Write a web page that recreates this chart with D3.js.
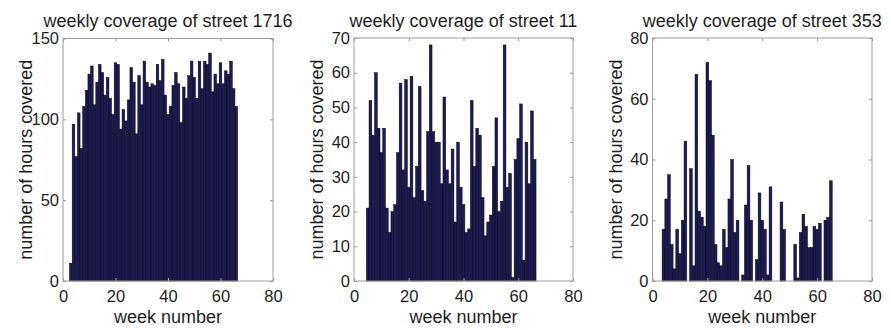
<!DOCTYPE html>
<html>
<head>
<meta charset="utf-8">
<script src="https://cdn.jsdelivr.net/npm/d3@7"></script>
<style>
  html, body { margin: 0; padding: 0; background: #fff; }
  svg { display: block; font-family: "Liberation Sans", Arial, Helvetica, sans-serif; }
</style>
</head>
<body>
<svg id="chart" width="891" height="330"></svg>
<script>
// Weekly coverage (hours) per street, one bar per week number
const weeks1716 = [3, 4, 5, 6, 7, 8, 9, 10, 11, 12, 13, 14, 15, 16, 17, 18, 19, 20, 21, 22,
  23, 24, 25, 26, 27, 28, 29, 30, 31, 32, 33, 34, 35, 36, 37, 38, 39, 40, 41, 42,
  43, 44, 45, 46, 47, 48, 49, 50, 51, 52, 53, 54, 55, 56, 57, 58, 59, 60, 61, 62,
  63, 64, 65, 66];
const hours1716 = [11, 97, 77, 104, 82, 108, 118, 128, 133, 109, 123, 134, 129, 115, 126, 113, 103, 135, 134, 94,
  106, 99, 112, 132, 123, 91, 127, 109, 136, 123, 120, 122, 121, 134, 124, 137, 115, 103, 108, 121,
  129, 122, 98, 120, 113, 127, 136, 126, 113, 136, 119, 136, 134, 141, 117, 128, 122, 135, 122, 130,
  128, 136, 119, 108];

const weeks11 = [5, 6, 7, 8, 9, 10, 11, 12, 13, 14, 15, 16, 17, 18, 19, 20, 21, 22, 23, 24,
  25, 26, 27, 28, 29, 30, 31, 32, 33, 34, 35, 36, 37, 38, 39, 40, 41, 42, 43, 44,
  45, 46, 47, 48, 49, 50, 51, 52, 53, 54, 55, 56, 57, 58, 59, 60, 61, 62, 63, 64,
  65, 66];
const hours11 = [21, 52, 42, 60, 44, 37, 44, 21, 14, 20, 22, 37, 57, 32, 58, 27, 59, 24, 33, 56,
  26, 23, 43, 68, 43, 40, 40, 28, 53, 32, 28, 38, 17, 40, 27, 22, 14, 15, 52, 33,
  44, 42, 24, 13, 17, 19, 33, 47, 20, 23, 68, 27, 31, 1, 35, 41, 51, 6, 40, 28,
  49, 35];

const weeks353 = [4, 5, 6, 7, 8, 9, 10, 11, 12, 13, 14, 15, 16, 17, 18, 19, 20, 21, 22, 23,
  24, 25, 26, 27, 28, 29, 30, 31, 32, 33, 34, 35, 36, 37, 38, 39, 40, 41, 42, 43,
  44, 45, 46, 47, 48, 49, 50, 51, 52, 53, 54, 55, 56, 57, 58, 59, 60, 61, 62, 63,
  64, 65];
const hours353 = [17, 27, 35, 12, 4, 17, 9, 20, 46, 0, 37, 5, 68, 23, 21, 18, 72, 66, 48, 12,
  6, 5, 17, 11, 27, 40, 16, 20, 0, 2, 25, 38, 20, 0, 7, 29, 20, 17, 2, 31,
  0, 0, 0, 26, 17, 0, 0, 0, 12, 1, 16, 22, 18, 11, 11, 18, 17, 19, 0, 20,
  21, 33];

const xTicks = [0, 20, 40, 60, 80];
const yTicks1716 = [0, 50, 100, 150];
const yTicks11 = [0, 10, 20, 30, 40, 50, 60, 70];
const yTicks353 = [0, 20, 40, 60, 80];

const titles = ["weekly coverage of street 1716", "weekly coverage of street 11", "weekly coverage of street 353"];
const xLabel = "week number";
const yLabel = "number of hours covered";

const panels = [
  { title: titles[0], weeks: weeks1716, hours: hours1716, yMax: 150, yTicks: yTicks1716,
    box: { left: 63, right: 273, top: 38.5, bottom: 281 } },
  { title: titles[1], weeks: weeks11, hours: hours11, yMax: 70, yTicks: yTicks11,
    box: { left: 354, right: 573, top: 38, bottom: 281 } },
  { title: titles[2], weeks: weeks353, hours: hours353, yMax: 80, yTicks: yTicks353,
    box: { left: 652.5, right: 872, top: 38, bottom: 281 } }
];

const svg = d3.select("#chart");
const axisGray = "#9c9c9c";
const textColor = "#1e1e1e";
const barFill = "#1c1c52";
const barEdge = "#05051a";

panels.forEach(p => {
  const b = p.box;
  const x = d3.scaleLinear().domain([0, 80]).range([b.left, b.right]);
  const y = d3.scaleLinear().domain([0, p.yMax]).range([b.bottom, b.top]);
  const g = svg.append("g");

  // bars (weeks with zero hours draw nothing)
  const data = p.weeks.map((w, i) => ({ week: w, hours: p.hours[i] })).filter(d => d.hours > 0);
  g.append("g").selectAll("rect").data(data).join("rect")
    .attr("x", d => x(d.week - 0.5))
    .attr("width", d => x(d.week + 0.5) - x(d.week - 0.5))
    .attr("y", d => y(d.hours))
    .attr("height", d => y(0) - y(d.hours))
    .attr("fill", barFill)
    .attr("stroke", barEdge)
    .attr("stroke-width", 0.5);

  // inward ticks on all four sides, labels on bottom and left
  const styleAxis = (sel, labelled) => {
    sel.select(".domain").remove();
    sel.selectAll(".tick line").attr("stroke", axisGray).attr("stroke-width", 1);
    sel.selectAll(".tick text")
      .attr("fill", textColor)
      .attr("font-size", 16.5)
      .attr("font-family", "Liberation Sans, Arial, sans-serif");
    if (!labelled) sel.selectAll(".tick text").remove();
  };

  g.append("g").attr("transform", `translate(0,${b.bottom})`)
    .call(d3.axisBottom(x).tickValues(xTicks).tickSize(-3).tickPadding(9))
    .call(s => styleAxis(s, true));
  g.append("g").attr("transform", `translate(0,${b.top})`)
    .call(d3.axisTop(x).tickValues(xTicks).tickSize(-3))
    .call(s => styleAxis(s, false));
  g.append("g").attr("transform", `translate(${b.left},0)`)
    .call(d3.axisLeft(y).tickValues(p.yTicks).tickSize(-3).tickPadding(4))
    .call(s => styleAxis(s, true));
  g.append("g").attr("transform", `translate(${b.right},0)`)
    .call(d3.axisRight(y).tickValues(p.yTicks).tickSize(-3))
    .call(s => styleAxis(s, false));

  // axes box
  g.append("rect")
    .attr("x", b.left).attr("y", b.top)
    .attr("width", b.right - b.left).attr("height", b.bottom - b.top)
    .attr("fill", "none").attr("stroke", axisGray).attr("stroke-width", 1);

  // title and axis labels
  const cx = (b.left + b.right) / 2;
  const cy = (b.top + b.bottom) / 2;
  g.append("text").attr("x", cx).attr("y", 26.5)
    .attr("text-anchor", "middle").attr("font-size", 18).attr("fill", textColor)
    .text(p.title);
  g.append("text").attr("x", cx).attr("y", 322.5)
    .attr("text-anchor", "middle").attr("font-size", 18).attr("fill", textColor)
    .text(xLabel);
  g.append("text")
    .attr("transform", `translate(${b.left - 31},${cy}) rotate(-90)`)
    .attr("text-anchor", "middle").attr("font-size", 18).attr("fill", textColor)
    .text(yLabel);
});
</script>
</body>
</html>
